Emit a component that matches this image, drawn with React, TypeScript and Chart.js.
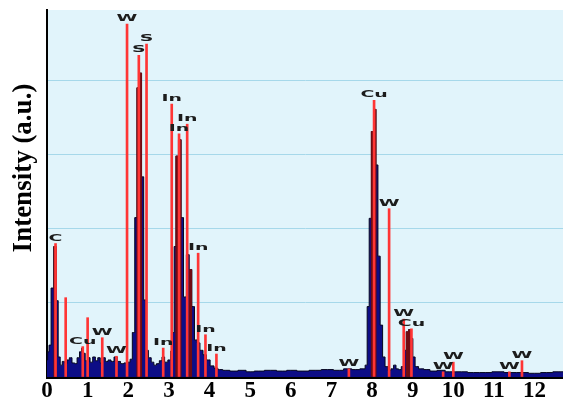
import React, { useEffect, useRef } from 'react';
import { Chart, registerables } from 'chart.js';

Chart.register(...registerables);

// Spectrum channels (keV) and intensities (grid units)
const energies = [
  0, 0.03, 0.07, 0.13, 0.2, 0.25, 0.3, 0.35, 0.4, 0.46, 0.52, 0.58, 0.65, 0.71, 0.77, 0.83, 0.87, 0.91, 0.97,
  1.03, 1.09, 1.16, 1.22, 1.28, 1.34, 1.4, 1.47, 1.54, 1.61, 1.69, 1.77, 1.85, 1.94, 2.02, 2.07, 2.13, 2.19,
  2.24, 2.3, 2.35, 2.41, 2.46, 2.53, 2.6, 2.66, 2.73, 2.8, 2.86, 2.93, 3.02, 3.07, 3.11, 3.15, 3.2, 3.27, 3.33,
  3.39, 3.47, 3.53, 3.6, 3.66, 3.73, 3.8, 3.88, 3.97, 4.06, 4.16, 4.25, 4.4, 4.6, 4.8, 5.0, 5.2, 5.5, 5.8, 6.0,
  6.3, 6.6, 6.9, 7.2, 7.4, 7.6, 7.8, 7.86, 7.9, 7.96, 8.01, 8.07, 8.12, 8.17, 8.23, 8.29, 8.35, 8.43, 8.5, 8.56,
  8.62, 8.68, 8.76, 8.82, 8.87, 8.93, 8.98, 9.03, 9.09, 9.2, 9.35, 9.5, 9.7, 9.9, 10.2, 10.5, 10.8, 11.1, 11.4,
  11.7, 12.0, 12.3, 12.6, 12.7,
];
const counts = [
  0.23, 0.34, 0.43, 1.2, 1.76, 1.03, 0.27, 0.16, 0.21, 0.18, 0.23, 0.26, 0.19, 0.18, 0.26, 0.34, 0.39, 0.32, 0.22,
  0.26, 0.2, 0.27, 0.22, 0.26, 0.19, 0.26, 0.21, 0.23, 0.21, 0.27, 0.21, 0.18, 0.19, 0.2, 0.24, 0.6, 2.15,
  3.9, 4.1, 2.7, 1.04, 0.36, 0.26, 0.2, 0.16, 0.18, 0.22, 0.27, 0.2, 0.23, 0.35, 0.6, 1.76, 2.98, 3.2, 2.15,
  1.08, 1.65, 1.45, 0.95, 0.5, 0.46, 0.36, 0.3, 0.23, 0.15, 0.12, 0.1, 0.09, 0.08, 0.09, 0.07, 0.08, 0.09, 0.08, 0.09,
  0.08, 0.09, 0.1, 0.09, 0.11, 0.1, 0.11, 0.16, 0.95, 2.14, 3.31, 3.61, 2.86, 1.63, 0.7, 0.27, 0.14, 0.09, 0.11, 0.16,
  0.11, 0.1, 0.14, 0.36, 0.61, 0.64, 0.52, 0.27, 0.14, 0.11, 0.1, 0.08, 0.09, 0.07, 0.07, 0.06, 0.06, 0.07, 0.06,
  0.06, 0.05, 0.06, 0.07, 0.07,
];

// Element marker lines
const markerEnergies = [
  0.21, 0.46, 0.88, 1.0, 1.36, 1.71, 1.97, 2.26, 2.45, 2.86, 3.07, 3.25, 3.45, 3.72, 3.9, 4.17,
  7.43, 8.05, 8.42, 8.78, 8.97, 9.75, 10.0, 11.38, 11.69,
];
const markerHeights = [
  1.8, 1.07, 0.41, 0.8, 0.53, 0.28, 4.76, 4.34, 4.49, 0.39, 3.68, 3.28, 3.41, 1.67, 0.57, 0.31,
  0.11, 3.73, 2.27, 0.78, 0.65, 0.07, 0.2, 0.07, 0.22,
];
const markerLabels = [
  'C', '', 'Cu', '', 'W', 'W', 'W', 'S', 'S', 'In', 'In', 'In', 'In', 'In', 'In', 'In',
  'W', 'Cu', 'W', 'W', 'Cu', 'W', 'W', 'W', 'W',
];

const xTicks = [0, 1, 2, 3, 4, 5, 6, 7, 8, 9, 10, 11, 12];
const yGrid = [0, 1, 2, 3, 4];
const yTitle = 'Intensity (a.u.)';

export default function App() {
  const ref = useRef<HTMLCanvasElement>(null);

  useEffect(() => {
    if (!ref.current) return;
    const spectrum = energies.map((x, i) => ({ x, y: counts[i] }));
    const markers = markerEnergies.map((x, i) => ({ x, y: markerHeights[i] }));

    const isTop = (i: number) => {
      const v = counts[i];
      if (v < 0.5) return false;
      let m = 0;
      for (let k = Math.max(0, i - 2); k <= Math.min(counts.length - 1, i + 2); k++) m = Math.max(m, counts[k]);
      return v >= 0.85 * m;
    };

    const bgPlugin = {
      id: 'plotBg',
      beforeDraw(chart: any) {
        const { ctx, chartArea: a } = chart;
        ctx.save();
        ctx.fillStyle = '#e1f4fb';
        ctx.fillRect(a.left, a.top, a.right - a.left, a.bottom - a.top);
        ctx.restore();
      },
    };

    const labelPlugin = {
      id: 'markerLabels',
      afterDatasetsDraw(chart: any) {
        const { ctx } = chart;
        const meta = chart.getDatasetMeta(0);
        ctx.save();
        ctx.font = 'bold 9px "DejaVu Sans", sans-serif';
        ctx.fillStyle = '#1c1c1c';
        ctx.textAlign = 'center';
        ctx.textBaseline = 'alphabetic';
        meta.data.forEach((el: any, i: number) => {
          const t = markerLabels[i];
          if (!t) return;
          ctx.save();
          ctx.translate(el.x, el.y - 3);
          ctx.scale(2.1, 1);
          ctx.fillText(t, 0, 0);
          ctx.restore();
        });
        ctx.restore();
      },
    };

    const titlePlugin = {
      id: 'yTitle',
      afterDraw(chart: any) {
        const { ctx, chartArea: a } = chart;
        ctx.save();
        ctx.translate(a.left - 22.5, a.top + 158);
        ctx.rotate(-Math.PI / 2);
        ctx.font = 'bold 27px "Liberation Serif", "Times New Roman", serif';
        ctx.fillStyle = '#000';
        ctx.textAlign = 'center';
        ctx.textBaseline = 'middle';
        ctx.fillText(yTitle, 0, 0);
        ctx.restore();
      },
    };

    const chart = new Chart(ref.current, {
      type: 'bar',
      data: {
        datasets: [
          {
            type: 'bar',
            label: 'markers',
            data: markers as any,
            backgroundColor: '#ff3535',
            barThickness: 2,
            grouped: false,
            order: 0,
          } as any,
          {
            type: 'bar',
            label: 'peaks',
            data: spectrum as any,
            backgroundColor: (c: any) => (isTop(c.dataIndex) ? '#6e0b12' : 'rgba(0,0,0,0)'),
            barThickness: 2.6,
            grouped: false,
            order: 1,
          } as any,
          {
            type: 'line',
            label: 'spectrum',
            data: spectrum as any,
            stepped: 'middle',
            fill: 'origin',
            backgroundColor: '#0d0d86',
            borderColor: '#06061e',
            borderWidth: 1,
            pointRadius: 0,
            order: 2,
          } as any,
        ],
      },
      options: {
        animation: false,
        responsive: false,
        events: [],
        layout: { padding: { top: 10, right: 0, left: 0, bottom: 0 } },
        plugins: { legend: { display: false }, tooltip: { enabled: false } },
        scales: {
          x: {
            type: 'linear',
            min: 0,
            max: 12.7,
            offset: false,
            grid: { display: true, drawOnChartArea: false, drawTicks: false },
            border: { color: '#000', width: 3 },
            ticks: {
              font: { family: '"Liberation Serif", "Times New Roman", serif', size: 23, weight: 'bold' },
              color: '#000',
              padding: 0,
              autoSkip: false,
              maxRotation: 0,
            },
            afterBuildTicks: (s: any) => {
              s.ticks = xTicks.map((v) => ({ value: v }));
            },
            afterFit: (s: any) => {
              s.height = 28;
            },
          },
          y: {
            min: 0,
            max: 4.95,
            grid: { color: '#a6d8ea', lineWidth: 1, drawTicks: false },
            border: { color: '#000', width: 2 },
            ticks: { display: false },
            afterBuildTicks: (s: any) => {
              s.ticks = yGrid.map((v) => ({ value: v }));
            },
            afterFit: (s: any) => {
              s.width = 47;
            },
          },
        },
      } as any,
      plugins: [bgPlugin, labelPlugin, titlePlugin],
    });

    return () => chart.destroy();
  }, []);

  return (
    <div style={{ position: 'fixed', left: 0, top: 0, width: 563, height: 405, background: '#fff' }}>
      <canvas ref={ref} width={563} height={405} style={{ display: 'block' }} />
    </div>
  );
}
